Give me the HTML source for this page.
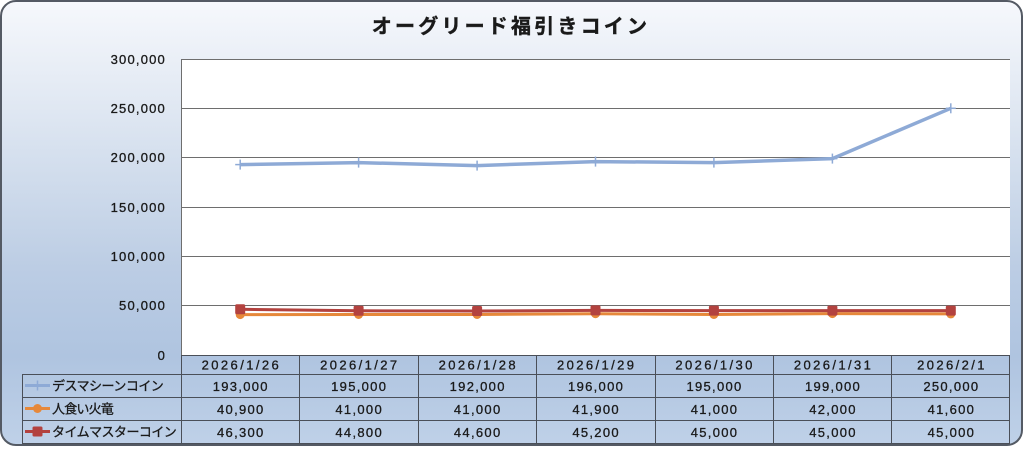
<!DOCTYPE html>
<html><head><meta charset="utf-8">
<style>
html,body{margin:0;padding:0;background:#fff;}
svg{display:block;}
text{font-family:"Liberation Sans","Noto Sans CJK JP",sans-serif;fill:#1a1a1a;}
</style></head>
<body>
<svg width="1024" height="450" viewBox="0 0 1024 450" xmlns="http://www.w3.org/2000/svg">
<defs>
<linearGradient id="bg" x1="0" y1="0" x2="0" y2="1">
<stop offset="0" stop-color="#f6f8fc"/>
<stop offset="0.25" stop-color="#dfe7f2"/>
<stop offset="0.6" stop-color="#bccde4"/>
<stop offset="0.8" stop-color="#afc4e0"/>
<stop offset="1" stop-color="#bfd1e8"/>
</linearGradient>
</defs>
<rect x="1" y="1" width="1021" height="444" rx="15" ry="15" fill="url(#bg)" stroke="#545a64" stroke-width="2"/>
<text x="511" y="33" text-anchor="middle" font-size="20" font-weight="bold" letter-spacing="3.2" stroke="#1a1a1a" stroke-width="0.4" style="font-family:'Noto Sans CJK JP',sans-serif">オーグリード福引きコイン</text>

<!-- plot area -->
<rect x="181" y="59" width="829" height="296" fill="#fff"/>
<g stroke="#6e6e6e" stroke-width="1">
<line x1="181" y1="59.5" x2="1010" y2="59.5"/>
<line x1="181" y1="108.5" x2="1010" y2="108.5"/>
<line x1="181" y1="157.5" x2="1010" y2="157.5"/>
<line x1="181" y1="207.5" x2="1010" y2="207.5"/>
<line x1="181" y1="256.5" x2="1010" y2="256.5"/>
<line x1="181" y1="305.5" x2="1010" y2="305.5"/>
<line x1="181.5" y1="59" x2="181.5" y2="355"/>
</g>
<g font-size="13" text-anchor="end" letter-spacing="1.2" stroke="#1a1a1a" stroke-width="0.3">
<text x="166" y="64">300,000</text>
<text x="166" y="113">250,000</text>
<text x="166" y="162">200,000</text>
<text x="166" y="212">150,000</text>
<text x="166" y="261">100,000</text>
<text x="166" y="310">50,000</text>
<text x="166" y="360">0</text>
</g>

<!-- series -->
<polyline fill="none" stroke="#e6883a" stroke-width="3" stroke-linejoin="round" points="240.2,314.6 358.6,314.5 477.1,314.5 595.5,313.7 713.9,314.5 832.4,313.6 950.8,313.9"/>
<g fill="#e6883a">
<circle cx="240.2" cy="314.6" r="4.5"/><circle cx="358.6" cy="314.5" r="4.5"/><circle cx="477.1" cy="314.5" r="4.5"/><circle cx="595.5" cy="313.7" r="4.5"/><circle cx="713.9" cy="314.5" r="4.5"/><circle cx="832.4" cy="313.6" r="4.5"/><circle cx="950.8" cy="313.9" r="4.5"/>
</g>
<polyline fill="none" stroke="#b3423f" stroke-width="3" stroke-linejoin="round" points="240.2,309.3 358.6,310.8 477.1,311.0 595.5,310.4 713.9,310.6 832.4,310.6 950.8,310.6"/>
<g fill="#b3423f">
<rect x="235.2" y="304.3" width="10" height="10" rx="1.5"/><rect x="353.6" y="305.8" width="10" height="10" rx="1.5"/><rect x="472.1" y="306" width="10" height="10" rx="1.5"/><rect x="590.5" y="305.4" width="10" height="10" rx="1.5"/><rect x="708.9" y="305.6" width="10" height="10" rx="1.5"/><rect x="827.4" y="305.6" width="10" height="10" rx="1.5"/><rect x="945.8" y="305.6" width="10" height="10" rx="1.5"/>
</g>
<polyline fill="none" stroke="#8eaad6" stroke-width="3.5" stroke-linejoin="round" points="240.2,164.6 358.6,162.6 477.1,165.6 595.5,161.6 713.9,162.6 832.4,158.6 950.8,108.3"/>
<g stroke="#8eaad6" stroke-width="1.5">
<line x1="240.2" y1="159.6" x2="240.2" y2="169.6"/><line x1="235.2" y1="164.6" x2="245.2" y2="164.6"/>
<line x1="358.6" y1="157.6" x2="358.6" y2="167.6"/><line x1="353.6" y1="162.6" x2="363.6" y2="162.6"/>
<line x1="477.1" y1="160.6" x2="477.1" y2="170.6"/><line x1="472.1" y1="165.6" x2="482.1" y2="165.6"/>
<line x1="595.5" y1="156.6" x2="595.5" y2="166.6"/><line x1="590.5" y1="161.6" x2="600.5" y2="161.6"/>
<line x1="713.9" y1="157.6" x2="713.9" y2="167.6"/><line x1="708.9" y1="162.6" x2="718.9" y2="162.6"/>
<line x1="832.4" y1="153.6" x2="832.4" y2="163.6"/><line x1="827.4" y1="158.6" x2="837.4" y2="158.6"/>
<line x1="950.8" y1="103.3" x2="950.8" y2="113.3"/><line x1="945.8" y1="108.3" x2="955.8" y2="108.3"/>
</g>

<!-- data table -->
<g stroke="#4a4f58" stroke-width="1" fill="none">
<line x1="181" y1="355.5" x2="1010" y2="355.5"/>
<line x1="22" y1="374.5" x2="1010" y2="374.5"/>
<line x1="22" y1="397.5" x2="1010" y2="397.5"/>
<line x1="22" y1="420.5" x2="1010" y2="420.5"/>
<line x1="22" y1="443.5" x2="1010" y2="443.5"/>
<line x1="22.5" y1="374" x2="22.5" y2="443"/>
<line x1="181.5" y1="355" x2="181.5" y2="443"/>
<line x1="299.5" y1="355" x2="299.5" y2="443"/>
<line x1="418.5" y1="355" x2="418.5" y2="443"/>
<line x1="536.5" y1="355" x2="536.5" y2="443"/>
<line x1="655.5" y1="355" x2="655.5" y2="443"/>
<line x1="773.5" y1="355" x2="773.5" y2="443"/>
<line x1="891.5" y1="355" x2="891.5" y2="443"/>
<line x1="1009.5" y1="355" x2="1009.5" y2="443"/>
</g>
<g font-size="13" text-anchor="middle" letter-spacing="2.4" stroke="#1a1a1a" stroke-width="0.3">
<text x="241.4" y="369.5">2026/1/26</text>
<text x="359.8" y="369.5">2026/1/27</text>
<text x="478.3" y="369.5">2026/1/28</text>
<text x="596.7" y="369.5">2026/1/29</text>
<text x="715.1" y="369.5">2026/1/30</text>
<text x="833.6" y="369.5">2026/1/31</text>
<text x="952" y="369.5">2026/2/1</text>
</g>
<g font-size="13" text-anchor="middle" letter-spacing="1.3" stroke="#1a1a1a" stroke-width="0.3">
<text x="240.8" y="391">193,000</text>
<text x="359.2" y="391">195,000</text>
<text x="477.7" y="391">192,000</text>
<text x="596.1" y="391">196,000</text>
<text x="714.5" y="391">195,000</text>
<text x="833" y="391">199,000</text>
<text x="951.4" y="391">250,000</text>
<text x="240.8" y="414">40,900</text>
<text x="359.2" y="414">41,000</text>
<text x="477.7" y="414">41,000</text>
<text x="596.1" y="414">41,900</text>
<text x="714.5" y="414">41,000</text>
<text x="833" y="414">42,000</text>
<text x="951.4" y="414">41,600</text>
<text x="240.8" y="437">46,300</text>
<text x="359.2" y="437">44,800</text>
<text x="477.7" y="437">44,600</text>
<text x="596.1" y="437">45,200</text>
<text x="714.5" y="437">45,000</text>
<text x="833" y="437">45,000</text>
<text x="951.4" y="437">45,000</text>
</g>
<!-- legend keys -->
<line x1="25" y1="385.5" x2="50" y2="385.5" stroke="#8eaad6" stroke-width="3"/>
<line x1="37.5" y1="380.5" x2="37.5" y2="390.5" stroke="#8eaad6" stroke-width="1.5"/>
<line x1="25" y1="408.5" x2="50" y2="408.5" stroke="#e6883a" stroke-width="3"/>
<circle cx="37.5" cy="408.5" r="4.5" fill="#e6883a"/>
<line x1="25" y1="431.5" x2="50" y2="431.5" stroke="#b3423f" stroke-width="3"/>
<rect x="32.5" y="426.5" width="10" height="10" rx="1.5" fill="#b3423f"/>
<g font-size="13" letter-spacing="0.2" stroke="#1a1a1a" stroke-width="0.3" style="font-family:'Noto Sans CJK JP',sans-serif">
<text x="52" y="390.5" textLength="112" lengthAdjust="spacing">デスマシーンコイン</text>
<text x="52" y="413.5" textLength="62" lengthAdjust="spacing">人食い火竜</text>
<text x="52" y="436.5" textLength="125" lengthAdjust="spacing">タイムマスターコイン</text>
</g>
</svg>
</body></html>
